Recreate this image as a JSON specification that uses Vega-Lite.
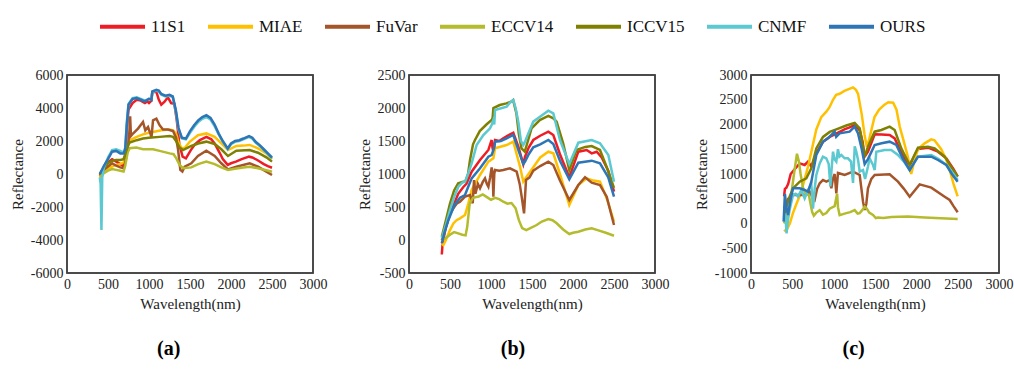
{
  "$schema": "https://vega.github.io/schema/vega-lite/v6.json",
  "background": "white",
  "padding": {"left": 9, "top": 2, "right": 0, "bottom": 0},
  "bounds": "flush",
  "spacing": 96,
  "config": {
    "font": "Liberation Serif",
    "locale": {"number": {"decimal": ".", "thousands": "", "grouping": [3], "currency": ["", ""], "minus": "-"}},
    "view": {"stroke": "#404040", "strokeWidth": 1.5},
    "axis": {
      "grid": false, "ticks": false,
      "labelFont": "Liberation Serif", "labelFontSize": 14, "labelColor": "#222222", "labelPadding": 4,
      "titleFont": "Liberation Serif", "titleFontSize": 15, "titleFontWeight": "normal", "titleColor": "#222222", "titlePadding": 5
    },
    "title": {"orient": "bottom", "frame": "bounds", "anchor": "middle", "fontSize": 20, "font": "Liberation Serif", "fontWeight": "bold", "offset": 28, "color": "#000000"}
  },
  "datasets": {
    "a": [
      {"s":"11S1","x":400,"y":-100},{"s":"11S1","x":450,"y":300},{"s":"11S1","x":500,"y":700},{"s":"11S1","x":550,"y":900},{"s":"11S1","x":600,"y":750},{"s":"11S1","x":650,"y":600},{"s":"11S1","x":690,"y":450},{"s":"11S1","x":710,"y":900},{"s":"11S1","x":730,"y":2800},{"s":"11S1","x":750,"y":3900},{"s":"11S1","x":800,"y":4300},{"s":"11S1","x":850,"y":4500},{"s":"11S1","x":900,"y":4450},{"s":"11S1","x":950,"y":4300},{"s":"11S1","x":980,"y":4400},{"s":"11S1","x":1000,"y":4300},{"s":"11S1","x":1030,"y":4450},{"s":"11S1","x":1040,"y":4950},{"s":"11S1","x":1090,"y":4980},{"s":"11S1","x":1120,"y":4500},{"s":"11S1","x":1150,"y":4200},{"s":"11S1","x":1190,"y":4380},{"s":"11S1","x":1230,"y":4650},{"s":"11S1","x":1270,"y":4300},{"s":"11S1","x":1310,"y":4250},{"s":"11S1","x":1340,"y":3200},{"s":"11S1","x":1370,"y":1800},{"s":"11S1","x":1410,"y":1050},{"s":"11S1","x":1450,"y":950},{"s":"11S1","x":1510,"y":1450},{"s":"11S1","x":1560,"y":1800},{"s":"11S1","x":1620,"y":2050},{"s":"11S1","x":1700,"y":2250},{"s":"11S1","x":1760,"y":2100},{"s":"11S1","x":1800,"y":1850},{"s":"11S1","x":1860,"y":1300},{"s":"11S1","x":1900,"y":900},{"s":"11S1","x":1960,"y":550},{"s":"11S1","x":2000,"y":650},{"s":"11S1","x":2060,"y":750},{"s":"11S1","x":2130,"y":900},{"s":"11S1","x":2220,"y":1050},{"s":"11S1","x":2260,"y":1000},{"s":"11S1","x":2320,"y":850},{"s":"11S1","x":2400,"y":600},{"s":"11S1","x":2450,"y":480},{"s":"11S1","x":2500,"y":380},
      {"s":"MIAE","x":400,"y":-250},{"s":"MIAE","x":450,"y":100},{"s":"MIAE","x":500,"y":350},{"s":"MIAE","x":550,"y":450},{"s":"MIAE","x":600,"y":550},{"s":"MIAE","x":650,"y":600},{"s":"MIAE","x":690,"y":700},{"s":"MIAE","x":710,"y":1100},{"s":"MIAE","x":740,"y":1700},{"s":"MIAE","x":770,"y":2050},{"s":"MIAE","x":850,"y":2250},{"s":"MIAE","x":927,"y":2400},{"s":"MIAE","x":1000,"y":2500},{"s":"MIAE","x":1049,"y":2550},{"s":"MIAE","x":1150,"y":2650},{"s":"MIAE","x":1250,"y":2700},{"s":"MIAE","x":1293,"y":2650},{"s":"MIAE","x":1330,"y":2450},{"s":"MIAE","x":1360,"y":1900},{"s":"MIAE","x":1400,"y":1550},{"s":"MIAE","x":1440,"y":1600},{"s":"MIAE","x":1496,"y":1950},{"s":"MIAE","x":1597,"y":2350},{"s":"MIAE","x":1699,"y":2460},{"s":"MIAE","x":1801,"y":2250},{"s":"MIAE","x":1882,"y":1850},{"s":"MIAE","x":1963,"y":1450},{"s":"MIAE","x":2065,"y":1700},{"s":"MIAE","x":2150,"y":1720},{"s":"MIAE","x":2228,"y":1760},{"s":"MIAE","x":2329,"y":1560},{"s":"MIAE","x":2431,"y":1250},{"s":"MIAE","x":2500,"y":900},
      {"s":"FuVar","x":400,"y":-150},{"s":"FuVar","x":450,"y":250},{"s":"FuVar","x":500,"y":450},{"s":"FuVar","x":550,"y":650},{"s":"FuVar","x":600,"y":500},{"s":"FuVar","x":650,"y":400},{"s":"FuVar","x":690,"y":350},{"s":"FuVar","x":710,"y":700},{"s":"FuVar","x":740,"y":1500},{"s":"FuVar","x":760,"y":2500},{"s":"FuVar","x":770,"y":3500},{"s":"FuVar","x":780,"y":2300},{"s":"FuVar","x":805,"y":2450},{"s":"FuVar","x":866,"y":2750},{"s":"FuVar","x":927,"y":3150},{"s":"FuVar","x":955,"y":2650},{"s":"FuVar","x":988,"y":2850},{"s":"FuVar","x":1020,"y":2400},{"s":"FuVar","x":1030,"y":2200},{"s":"FuVar","x":1049,"y":3250},{"s":"FuVar","x":1090,"y":3350},{"s":"FuVar","x":1130,"y":2950},{"s":"FuVar","x":1171,"y":2700},{"s":"FuVar","x":1230,"y":2700},{"s":"FuVar","x":1293,"y":2600},{"s":"FuVar","x":1330,"y":2200},{"s":"FuVar","x":1354,"y":1500},{"s":"FuVar","x":1382,"y":250},{"s":"FuVar","x":1407,"y":150},{"s":"FuVar","x":1435,"y":450},{"s":"FuVar","x":1516,"y":650},{"s":"FuVar","x":1597,"y":1090},{"s":"FuVar","x":1699,"y":1410},{"s":"FuVar","x":1801,"y":1090},{"s":"FuVar","x":1882,"y":650},{"s":"FuVar","x":1963,"y":280},{"s":"FuVar","x":2065,"y":440},{"s":"FuVar","x":2228,"y":650},{"s":"FuVar","x":2329,"y":440},{"s":"FuVar","x":2431,"y":140},{"s":"FuVar","x":2500,"y":-60},
      {"s":"ECCV14","x":400,"y":-150},{"s":"ECCV14","x":450,"y":50},{"s":"ECCV14","x":500,"y":200},{"s":"ECCV14","x":550,"y":300},{"s":"ECCV14","x":600,"y":250},{"s":"ECCV14","x":650,"y":200},{"s":"ECCV14","x":690,"y":150},{"s":"ECCV14","x":710,"y":500},{"s":"ECCV14","x":740,"y":1300},{"s":"ECCV14","x":764,"y":1560},{"s":"ECCV14","x":846,"y":1600},{"s":"ECCV14","x":927,"y":1500},{"s":"ECCV14","x":1049,"y":1500},{"s":"ECCV14","x":1130,"y":1400},{"s":"ECCV14","x":1252,"y":1250},{"s":"ECCV14","x":1300,"y":1200},{"s":"ECCV14","x":1333,"y":950},{"s":"ECCV14","x":1374,"y":550},{"s":"ECCV14","x":1415,"y":350},{"s":"ECCV14","x":1516,"y":400},{"s":"ECCV14","x":1600,"y":600},{"s":"ECCV14","x":1699,"y":750},{"s":"ECCV14","x":1801,"y":600},{"s":"ECCV14","x":1882,"y":400},{"s":"ECCV14","x":1963,"y":240},{"s":"ECCV14","x":2065,"y":330},{"s":"ECCV14","x":2150,"y":400},{"s":"ECCV14","x":2228,"y":440},{"s":"ECCV14","x":2329,"y":350},{"s":"ECCV14","x":2431,"y":230},{"s":"ECCV14","x":2500,"y":140},
      {"s":"ICCV15","x":400,"y":0},{"s":"ICCV15","x":450,"y":350},{"s":"ICCV15","x":500,"y":650},{"s":"ICCV15","x":550,"y":800},{"s":"ICCV15","x":600,"y":850},{"s":"ICCV15","x":650,"y":850},{"s":"ICCV15","x":690,"y":900},{"s":"ICCV15","x":710,"y":1200},{"s":"ICCV15","x":740,"y":1700},{"s":"ICCV15","x":764,"y":1900},{"s":"ICCV15","x":850,"y":2050},{"s":"ICCV15","x":927,"y":2150},{"s":"ICCV15","x":1000,"y":2200},{"s":"ICCV15","x":1130,"y":2250},{"s":"ICCV15","x":1250,"y":2300},{"s":"ICCV15","x":1293,"y":2250},{"s":"ICCV15","x":1330,"y":2000},{"s":"ICCV15","x":1374,"y":1600},{"s":"ICCV15","x":1415,"y":1450},{"s":"ICCV15","x":1516,"y":1700},{"s":"ICCV15","x":1600,"y":1850},{"s":"ICCV15","x":1699,"y":1960},{"s":"ICCV15","x":1801,"y":1820},{"s":"ICCV15","x":1882,"y":1500},{"s":"ICCV15","x":1963,"y":1090},{"s":"ICCV15","x":2065,"y":1410},{"s":"ICCV15","x":2228,"y":1450},{"s":"ICCV15","x":2329,"y":1290},{"s":"ICCV15","x":2431,"y":1010},{"s":"ICCV15","x":2500,"y":750},
      {"s":"CNMF","x":400,"y":-200},{"s":"CNMF","x":410,"y":-600},{"s":"CNMF","x":420,"y":-3400},{"s":"CNMF","x":430,"y":-200},{"s":"CNMF","x":450,"y":400},{"s":"CNMF","x":500,"y":1000},{"s":"CNMF","x":550,"y":1450},{"s":"CNMF","x":600,"y":1500},{"s":"CNMF","x":650,"y":1400},{"s":"CNMF","x":690,"y":1300},{"s":"CNMF","x":710,"y":1600},{"s":"CNMF","x":730,"y":3200},{"s":"CNMF","x":750,"y":4250},{"s":"CNMF","x":800,"y":4600},{"s":"CNMF","x":850,"y":4650},{"s":"CNMF","x":900,"y":4550},{"s":"CNMF","x":950,"y":4450},{"s":"CNMF","x":1000,"y":4550},{"s":"CNMF","x":1030,"y":4500},{"s":"CNMF","x":1040,"y":4950},{"s":"CNMF","x":1090,"y":5050},{"s":"CNMF","x":1120,"y":5000},{"s":"CNMF","x":1150,"y":4800},{"s":"CNMF","x":1200,"y":4700},{"s":"CNMF","x":1250,"y":4750},{"s":"CNMF","x":1290,"y":4650},{"s":"CNMF","x":1330,"y":3700},{"s":"CNMF","x":1360,"y":2700},{"s":"CNMF","x":1400,"y":2150},{"s":"CNMF","x":1450,"y":2100},{"s":"CNMF","x":1500,"y":2500},{"s":"CNMF","x":1550,"y":2850},{"s":"CNMF","x":1600,"y":3150},{"s":"CNMF","x":1650,"y":3350},{"s":"CNMF","x":1700,"y":3450},{"s":"CNMF","x":1750,"y":3300},{"s":"CNMF","x":1800,"y":2900},{"s":"CNMF","x":1850,"y":2400},{"s":"CNMF","x":1900,"y":1950},{"s":"CNMF","x":1960,"y":1500},{"s":"CNMF","x":2000,"y":1800},{"s":"CNMF","x":2050,"y":1950},{"s":"CNMF","x":2100,"y":2000},{"s":"CNMF","x":2150,"y":2100},{"s":"CNMF","x":2220,"y":2250},{"s":"CNMF","x":2260,"y":2150},{"s":"CNMF","x":2300,"y":1900},{"s":"CNMF","x":2350,"y":1700},{"s":"CNMF","x":2400,"y":1450},{"s":"CNMF","x":2450,"y":1200},{"s":"CNMF","x":2500,"y":950},
      {"s":"OURS","x":400,"y":0},{"s":"OURS","x":450,"y":500},{"s":"OURS","x":500,"y":900},{"s":"OURS","x":550,"y":1350},{"s":"OURS","x":600,"y":1400},{"s":"OURS","x":650,"y":1250},{"s":"OURS","x":690,"y":1250},{"s":"OURS","x":710,"y":1500},{"s":"OURS","x":730,"y":3000},{"s":"OURS","x":750,"y":4200},{"s":"OURS","x":800,"y":4550},{"s":"OURS","x":850,"y":4600},{"s":"OURS","x":900,"y":4500},{"s":"OURS","x":950,"y":4400},{"s":"OURS","x":1000,"y":4550},{"s":"OURS","x":1030,"y":4500},{"s":"OURS","x":1040,"y":5000},{"s":"OURS","x":1090,"y":5100},{"s":"OURS","x":1120,"y":5050},{"s":"OURS","x":1150,"y":4850},{"s":"OURS","x":1200,"y":4750},{"s":"OURS","x":1250,"y":4800},{"s":"OURS","x":1290,"y":4700},{"s":"OURS","x":1330,"y":3800},{"s":"OURS","x":1360,"y":2800},{"s":"OURS","x":1400,"y":2200},{"s":"OURS","x":1450,"y":2150},{"s":"OURS","x":1500,"y":2600},{"s":"OURS","x":1550,"y":2950},{"s":"OURS","x":1600,"y":3250},{"s":"OURS","x":1650,"y":3450},{"s":"OURS","x":1700,"y":3570},{"s":"OURS","x":1750,"y":3400},{"s":"OURS","x":1800,"y":3000},{"s":"OURS","x":1850,"y":2450},{"s":"OURS","x":1900,"y":2000},{"s":"OURS","x":1960,"y":1550},{"s":"OURS","x":2000,"y":1850},{"s":"OURS","x":2050,"y":2000},{"s":"OURS","x":2100,"y":2050},{"s":"OURS","x":2150,"y":2150},{"s":"OURS","x":2220,"y":2300},{"s":"OURS","x":2260,"y":2200},{"s":"OURS","x":2300,"y":1950},{"s":"OURS","x":2350,"y":1750},{"s":"OURS","x":2400,"y":1500},{"s":"OURS","x":2450,"y":1250},{"s":"OURS","x":2500,"y":1000}
    ],
    "b": [
      {"s":"11S1","x":400,"y":-220},{"s":"11S1","x":410,"y":-50},{"s":"11S1","x":450,"y":200},{"s":"11S1","x":500,"y":400},{"s":"11S1","x":550,"y":550},{"s":"11S1","x":600,"y":700},{"s":"11S1","x":660,"y":800},{"s":"11S1","x":700,"y":850},{"s":"11S1","x":764,"y":1035},{"s":"11S1","x":866,"y":1212},{"s":"11S1","x":968,"y":1364},{"s":"11S1","x":990,"y":1450},{"s":"11S1","x":1008,"y":1515},{"s":"11S1","x":1018,"y":1400},{"s":"11S1","x":1029,"y":1338},{"s":"11S1","x":1049,"y":1515},{"s":"11S1","x":1100,"y":1500},{"s":"11S1","x":1150,"y":1540},{"s":"11S1","x":1200,"y":1580},{"s":"11S1","x":1272,"y":1626},{"s":"11S1","x":1333,"y":1414},{"s":"11S1","x":1394,"y":1150},{"s":"11S1","x":1415,"y":1262},{"s":"11S1","x":1460,"y":1400},{"s":"11S1","x":1516,"y":1515},{"s":"11S1","x":1600,"y":1580},{"s":"11S1","x":1699,"y":1641},{"s":"11S1","x":1760,"y":1591},{"s":"11S1","x":1841,"y":1300},{"s":"11S1","x":1955,"y":950},{"s":"11S1","x":2065,"y":1338},{"s":"11S1","x":2167,"y":1364},{"s":"11S1","x":2228,"y":1313},{"s":"11S1","x":2289,"y":1338},{"s":"11S1","x":2350,"y":1250},{"s":"11S1","x":2430,"y":1050},{"s":"11S1","x":2500,"y":732},
      {"s":"MIAE","x":400,"y":-50},{"s":"MIAE","x":419,"y":-76},{"s":"MIAE","x":450,"y":0},{"s":"MIAE","x":500,"y":150},{"s":"MIAE","x":541,"y":252},{"s":"MIAE","x":580,"y":300},{"s":"MIAE","x":622,"y":328},{"s":"MIAE","x":683,"y":379},{"s":"MIAE","x":724,"y":556},{"s":"MIAE","x":764,"y":758},{"s":"MIAE","x":866,"y":985},{"s":"MIAE","x":968,"y":1187},{"s":"MIAE","x":1029,"y":1237},{"s":"MIAE","x":1049,"y":1389},{"s":"MIAE","x":1191,"y":1439},{"s":"MIAE","x":1272,"y":1490},{"s":"MIAE","x":1354,"y":1111},{"s":"MIAE","x":1394,"y":884},{"s":"MIAE","x":1430,"y":950},{"s":"MIAE","x":1516,"y":1101},{"s":"MIAE","x":1600,"y":1250},{"s":"MIAE","x":1699,"y":1338},{"s":"MIAE","x":1760,"y":1313},{"s":"MIAE","x":1841,"y":1000},{"s":"MIAE","x":1955,"y":530},{"s":"MIAE","x":2065,"y":833},{"s":"MIAE","x":2167,"y":934},{"s":"MIAE","x":2250,"y":900},{"s":"MIAE","x":2329,"y":884},{"s":"MIAE","x":2420,"y":600},{"s":"MIAE","x":2500,"y":280},
      {"s":"FuVar","x":400,"y":0},{"s":"FuVar","x":450,"y":200},{"s":"FuVar","x":500,"y":400},{"s":"FuVar","x":541,"y":480},{"s":"FuVar","x":580,"y":550},{"s":"FuVar","x":622,"y":581},{"s":"FuVar","x":683,"y":657},{"s":"FuVar","x":744,"y":682},{"s":"FuVar","x":777,"y":556},{"s":"FuVar","x":793,"y":909},{"s":"FuVar","x":810,"y":700},{"s":"FuVar","x":840,"y":850},{"s":"FuVar","x":866,"y":783},{"s":"FuVar","x":900,"y":880},{"s":"FuVar","x":927,"y":934},{"s":"FuVar","x":950,"y":850},{"s":"FuVar","x":968,"y":808},{"s":"FuVar","x":990,"y":950},{"s":"FuVar","x":1008,"y":1100},{"s":"FuVar","x":1020,"y":1000},{"s":"FuVar","x":1029,"y":657},{"s":"FuVar","x":1040,"y":1000},{"s":"FuVar","x":1049,"y":1060},{"s":"FuVar","x":1100,"y":1050},{"s":"FuVar","x":1150,"y":1060},{"s":"FuVar","x":1232,"y":1086},{"s":"FuVar","x":1313,"y":1035},{"s":"FuVar","x":1350,"y":850},{"s":"FuVar","x":1374,"y":657},{"s":"FuVar","x":1403,"y":404},{"s":"FuVar","x":1427,"y":909},{"s":"FuVar","x":1470,"y":950},{"s":"FuVar","x":1516,"y":1050},{"s":"FuVar","x":1600,"y":1120},{"s":"FuVar","x":1699,"y":1187},{"s":"FuVar","x":1760,"y":1136},{"s":"FuVar","x":1841,"y":900},{"s":"FuVar","x":1955,"y":606},{"s":"FuVar","x":2065,"y":833},{"s":"FuVar","x":2147,"y":950},{"s":"FuVar","x":2228,"y":869},{"s":"FuVar","x":2329,"y":833},{"s":"FuVar","x":2411,"y":656},{"s":"FuVar","x":2500,"y":227},
      {"s":"ECCV14","x":400,"y":0},{"s":"ECCV14","x":450,"y":30},{"s":"ECCV14","x":500,"y":80},{"s":"ECCV14","x":550,"y":120},{"s":"ECCV14","x":600,"y":100},{"s":"ECCV14","x":650,"y":80},{"s":"ECCV14","x":690,"y":70},{"s":"ECCV14","x":710,"y":200},{"s":"ECCV14","x":740,"y":550},{"s":"ECCV14","x":780,"y":640},{"s":"ECCV14","x":850,"y":660},{"s":"ECCV14","x":900,"y":690},{"s":"ECCV14","x":950,"y":650},{"s":"ECCV14","x":1000,"y":610},{"s":"ECCV14","x":1050,"y":640},{"s":"ECCV14","x":1100,"y":620},{"s":"ECCV14","x":1150,"y":580},{"s":"ECCV14","x":1200,"y":550},{"s":"ECCV14","x":1250,"y":560},{"s":"ECCV14","x":1300,"y":480},{"s":"ECCV14","x":1340,"y":300},{"s":"ECCV14","x":1380,"y":180},{"s":"ECCV14","x":1430,"y":150},{"s":"ECCV14","x":1480,"y":180},{"s":"ECCV14","x":1557,"y":227},{"s":"ECCV14","x":1620,"y":280},{"s":"ECCV14","x":1699,"y":318},{"s":"ECCV14","x":1750,"y":300},{"s":"ECCV14","x":1801,"y":253},{"s":"ECCV14","x":1880,"y":160},{"s":"ECCV14","x":1955,"y":91},{"s":"ECCV14","x":2000,"y":110},{"s":"ECCV14","x":2065,"y":126},{"s":"ECCV14","x":2150,"y":160},{"s":"ECCV14","x":2228,"y":177},{"s":"ECCV14","x":2300,"y":150},{"s":"ECCV14","x":2400,"y":110},{"s":"ECCV14","x":2500,"y":65},
      {"s":"ICCV15","x":400,"y":50},{"s":"ICCV15","x":450,"y":300},{"s":"ICCV15","x":500,"y":550},{"s":"ICCV15","x":550,"y":750},{"s":"ICCV15","x":600,"y":860},{"s":"ICCV15","x":650,"y":880},{"s":"ICCV15","x":690,"y":890},{"s":"ICCV15","x":720,"y":1000},{"s":"ICCV15","x":744,"y":1212},{"s":"ICCV15","x":781,"y":1450},{"s":"ICCV15","x":805,"y":1515},{"s":"ICCV15","x":863,"y":1650},{"s":"ICCV15","x":944,"y":1750},{"s":"ICCV15","x":1008,"y":1818},{"s":"ICCV15","x":1020,"y":1850},{"s":"ICCV15","x":1029,"y":2000},{"s":"ICCV15","x":1107,"y":2045},{"s":"ICCV15","x":1188,"y":2070},{"s":"ICCV15","x":1252,"y":2100},{"s":"ICCV15","x":1270,"y":2120},{"s":"ICCV15","x":1310,"y":1919},{"s":"ICCV15","x":1340,"y":1600},{"s":"ICCV15","x":1372,"y":1389},{"s":"ICCV15","x":1412,"y":1338},{"s":"ICCV15","x":1450,"y":1500},{"s":"ICCV15","x":1494,"y":1692},{"s":"ICCV15","x":1516,"y":1717},{"s":"ICCV15","x":1595,"y":1818},{"s":"ICCV15","x":1699,"y":1879},{"s":"ICCV15","x":1760,"y":1843},{"s":"ICCV15","x":1800,"y":1793},{"s":"ICCV15","x":1880,"y":1465},{"s":"ICCV15","x":1955,"y":1060},{"s":"ICCV15","x":2043,"y":1364},{"s":"ICCV15","x":2150,"y":1410},{"s":"ICCV15","x":2228,"y":1424},{"s":"ICCV15","x":2329,"y":1364},{"s":"ICCV15","x":2409,"y":1111},{"s":"ICCV15","x":2500,"y":790},
      {"s":"CNMF","x":400,"y":25},{"s":"CNMF","x":450,"y":230},{"s":"CNMF","x":500,"y":454},{"s":"CNMF","x":550,"y":650},{"s":"CNMF","x":602,"y":808},{"s":"CNMF","x":650,"y":870},{"s":"CNMF","x":683,"y":884},{"s":"CNMF","x":720,"y":1000},{"s":"CNMF","x":764,"y":1161},{"s":"CNMF","x":825,"y":1439},{"s":"CNMF","x":907,"y":1591},{"s":"CNMF","x":988,"y":1692},{"s":"CNMF","x":1010,"y":1750},{"s":"CNMF","x":1029,"y":1818},{"s":"CNMF","x":1040,"y":1750},{"s":"CNMF","x":1049,"y":1970},{"s":"CNMF","x":1191,"y":2020},{"s":"CNMF","x":1230,"y":2080},{"s":"CNMF","x":1272,"y":2121},{"s":"CNMF","x":1300,"y":2000},{"s":"CNMF","x":1333,"y":1793},{"s":"CNMF","x":1365,"y":1500},{"s":"CNMF","x":1394,"y":1439},{"s":"CNMF","x":1415,"y":1490},{"s":"CNMF","x":1450,"y":1600},{"s":"CNMF","x":1516,"y":1793},{"s":"CNMF","x":1597,"y":1869},{"s":"CNMF","x":1699,"y":1960},{"s":"CNMF","x":1760,"y":1919},{"s":"CNMF","x":1841,"y":1515},{"s":"CNMF","x":1955,"y":1151},{"s":"CNMF","x":2065,"y":1475},{"s":"CNMF","x":2228,"y":1515},{"s":"CNMF","x":2329,"y":1465},{"s":"CNMF","x":2431,"y":1288},{"s":"CNMF","x":2500,"y":884},
      {"s":"OURS","x":400,"y":-50},{"s":"OURS","x":430,"y":100},{"s":"OURS","x":480,"y":300},{"s":"OURS","x":550,"y":520},{"s":"OURS","x":622,"y":641},{"s":"OURS","x":683,"y":682},{"s":"OURS","x":720,"y":800},{"s":"OURS","x":764,"y":934},{"s":"OURS","x":866,"y":1086},{"s":"OURS","x":968,"y":1262},{"s":"OURS","x":1008,"y":1288},{"s":"OURS","x":1040,"y":1400},{"s":"OURS","x":1049,"y":1490},{"s":"OURS","x":1120,"y":1500},{"s":"OURS","x":1191,"y":1540},{"s":"OURS","x":1272,"y":1591},{"s":"OURS","x":1333,"y":1364},{"s":"OURS","x":1394,"y":1150},{"s":"OURS","x":1415,"y":1187},{"s":"OURS","x":1460,"y":1300},{"s":"OURS","x":1516,"y":1404},{"s":"OURS","x":1600,"y":1450},{"s":"OURS","x":1699,"y":1515},{"s":"OURS","x":1760,"y":1454},{"s":"OURS","x":1841,"y":1200},{"s":"OURS","x":1955,"y":919},{"s":"OURS","x":2065,"y":1171},{"s":"OURS","x":2228,"y":1202},{"s":"OURS","x":2329,"y":1161},{"s":"OURS","x":2430,"y":950},{"s":"OURS","x":2500,"y":656}
    ],
    "c": [
      {"s":"11S1","x":400,"y":550},{"s":"11S1","x":410,"y":700},{"s":"11S1","x":427,"y":720},{"s":"11S1","x":450,"y":800},{"s":"11S1","x":480,"y":1000},{"s":"11S1","x":525,"y":1090},{"s":"11S1","x":589,"y":1215},{"s":"11S1","x":649,"y":1182},{"s":"11S1","x":689,"y":1249},{"s":"11S1","x":730,"y":1150},{"s":"11S1","x":790,"y":1420},{"s":"11S1","x":871,"y":1650},{"s":"11S1","x":952,"y":1750},{"s":"11S1","x":1012,"y":1800},{"s":"11S1","x":1072,"y":1850},{"s":"11S1","x":1130,"y":1900},{"s":"11S1","x":1193,"y":1940},{"s":"11S1","x":1254,"y":1990},{"s":"11S1","x":1315,"y":1880},{"s":"11S1","x":1350,"y":1650},{"s":"11S1","x":1375,"y":1350},{"s":"11S1","x":1415,"y":1450},{"s":"11S1","x":1496,"y":1801},{"s":"11S1","x":1580,"y":1800},{"s":"11S1","x":1677,"y":1788},{"s":"11S1","x":1738,"y":1720},{"s":"11S1","x":1800,"y":1500},{"s":"11S1","x":1860,"y":1300},{"s":"11S1","x":1919,"y":1168},{"s":"11S1","x":2020,"y":1505},{"s":"11S1","x":2141,"y":1532},{"s":"11S1","x":2262,"y":1451},{"s":"11S1","x":2363,"y":1316},{"s":"11S1","x":2450,"y":1100},{"s":"11S1","x":2500,"y":946},
      {"s":"MIAE","x":400,"y":-160},{"s":"MIAE","x":440,"y":-100},{"s":"MIAE","x":470,"y":0},{"s":"MIAE","x":505,"y":200},{"s":"MIAE","x":550,"y":400},{"s":"MIAE","x":600,"y":600},{"s":"MIAE","x":650,"y":900},{"s":"MIAE","x":690,"y":1150},{"s":"MIAE","x":730,"y":1450},{"s":"MIAE","x":790,"y":1900},{"s":"MIAE","x":850,"y":2150},{"s":"MIAE","x":911,"y":2260},{"s":"MIAE","x":950,"y":2350},{"s":"MIAE","x":992,"y":2500},{"s":"MIAE","x":1030,"y":2600},{"s":"MIAE","x":1072,"y":2620},{"s":"MIAE","x":1130,"y":2680},{"s":"MIAE","x":1190,"y":2720},{"s":"MIAE","x":1234,"y":2750},{"s":"MIAE","x":1270,"y":2700},{"s":"MIAE","x":1295,"y":2620},{"s":"MIAE","x":1340,"y":2200},{"s":"MIAE","x":1373,"y":1800},{"s":"MIAE","x":1400,"y":1550},{"s":"MIAE","x":1430,"y":1700},{"s":"MIAE","x":1494,"y":2150},{"s":"MIAE","x":1550,"y":2300},{"s":"MIAE","x":1615,"y":2400},{"s":"MIAE","x":1660,"y":2450},{"s":"MIAE","x":1720,"y":2440},{"s":"MIAE","x":1760,"y":2300},{"s":"MIAE","x":1800,"y":1950},{"s":"MIAE","x":1850,"y":1650},{"s":"MIAE","x":1897,"y":1350},{"s":"MIAE","x":1938,"y":1000},{"s":"MIAE","x":1990,"y":1350},{"s":"MIAE","x":2019,"y":1500},{"s":"MIAE","x":2100,"y":1620},{"s":"MIAE","x":2180,"y":1700},{"s":"MIAE","x":2220,"y":1680},{"s":"MIAE","x":2301,"y":1500},{"s":"MIAE","x":2360,"y":1300},{"s":"MIAE","x":2402,"y":1087},{"s":"MIAE","x":2450,"y":800},{"s":"MIAE","x":2500,"y":550},
      {"s":"FuVar","x":400,"y":300},{"s":"FuVar","x":450,"y":500},{"s":"FuVar","x":508,"y":580},{"s":"FuVar","x":589,"y":576},{"s":"FuVar","x":669,"y":576},{"s":"FuVar","x":710,"y":643},{"s":"FuVar","x":750,"y":509},{"s":"FuVar","x":770,"y":475},{"s":"FuVar","x":800,"y":700},{"s":"FuVar","x":831,"y":812},{"s":"FuVar","x":871,"y":879},{"s":"FuVar","x":911,"y":845},{"s":"FuVar","x":952,"y":879},{"s":"FuVar","x":972,"y":710},{"s":"FuVar","x":992,"y":912},{"s":"FuVar","x":1012,"y":1000},{"s":"FuVar","x":1032,"y":609},{"s":"FuVar","x":1052,"y":1020},{"s":"FuVar","x":1133,"y":980},{"s":"FuVar","x":1234,"y":1047},{"s":"FuVar","x":1315,"y":980},{"s":"FuVar","x":1355,"y":441},{"s":"FuVar","x":1375,"y":273},{"s":"FuVar","x":1395,"y":400},{"s":"FuVar","x":1415,"y":710},{"s":"FuVar","x":1456,"y":900},{"s":"FuVar","x":1496,"y":980},{"s":"FuVar","x":1677,"y":993},{"s":"FuVar","x":1778,"y":845},{"s":"FuVar","x":1850,"y":700},{"s":"FuVar","x":1919,"y":542},{"s":"FuVar","x":2040,"y":791},{"s":"FuVar","x":2181,"y":724},{"s":"FuVar","x":2343,"y":542},{"s":"FuVar","x":2403,"y":475},{"s":"FuVar","x":2450,"y":350},{"s":"FuVar","x":2500,"y":226},
      {"s":"ECCV14","x":400,"y":0},{"s":"ECCV14","x":448,"y":200},{"s":"ECCV14","x":488,"y":600},{"s":"ECCV14","x":520,"y":1000},{"s":"ECCV14","x":556,"y":1410},{"s":"ECCV14","x":580,"y":1250},{"s":"ECCV14","x":600,"y":1000},{"s":"ECCV14","x":629,"y":720},{"s":"ECCV14","x":660,"y":600},{"s":"ECCV14","x":700,"y":580},{"s":"ECCV14","x":720,"y":400},{"s":"ECCV14","x":740,"y":230},{"s":"ECCV14","x":760,"y":160},{"s":"ECCV14","x":790,"y":220},{"s":"ECCV14","x":831,"y":270},{"s":"ECCV14","x":870,"y":180},{"s":"ECCV14","x":911,"y":210},{"s":"ECCV14","x":952,"y":300},{"s":"ECCV14","x":1012,"y":350},{"s":"ECCV14","x":1032,"y":520},{"s":"ECCV14","x":1042,"y":600},{"s":"ECCV14","x":1052,"y":330},{"s":"ECCV14","x":1072,"y":170},{"s":"ECCV14","x":1153,"y":210},{"s":"ECCV14","x":1200,"y":230},{"s":"ECCV14","x":1254,"y":270},{"s":"ECCV14","x":1290,"y":200},{"s":"ECCV14","x":1315,"y":210},{"s":"ECCV14","x":1340,"y":260},{"s":"ECCV14","x":1375,"y":340},{"s":"ECCV14","x":1400,"y":300},{"s":"ECCV14","x":1430,"y":220},{"s":"ECCV14","x":1476,"y":172},{"s":"ECCV14","x":1510,"y":110},{"s":"ECCV14","x":1536,"y":120},{"s":"ECCV14","x":1600,"y":110},{"s":"ECCV14","x":1700,"y":130},{"s":"ECCV14","x":1899,"y":140},{"s":"ECCV14","x":2100,"y":120},{"s":"ECCV14","x":2300,"y":105},{"s":"ECCV14","x":2500,"y":91},
      {"s":"ICCV15","x":400,"y":100},{"s":"ICCV15","x":430,"y":350},{"s":"ICCV15","x":470,"y":550},{"s":"ICCV15","x":508,"y":710},{"s":"ICCV15","x":589,"y":845},{"s":"ICCV15","x":669,"y":912},{"s":"ICCV15","x":730,"y":1114},{"s":"ICCV15","x":790,"y":1518},{"s":"ICCV15","x":871,"y":1750},{"s":"ICCV15","x":952,"y":1850},{"s":"ICCV15","x":1032,"y":1900},{"s":"ICCV15","x":1153,"y":1980},{"s":"ICCV15","x":1254,"y":2030},{"s":"ICCV15","x":1315,"y":1923},{"s":"ICCV15","x":1350,"y":1600},{"s":"ICCV15","x":1375,"y":1350},{"s":"ICCV15","x":1415,"y":1550},{"s":"ICCV15","x":1496,"y":1855},{"s":"ICCV15","x":1577,"y":1889},{"s":"ICCV15","x":1677,"y":1956},{"s":"ICCV15","x":1738,"y":1889},{"s":"ICCV15","x":1818,"y":1518},{"s":"ICCV15","x":1919,"y":1182},{"s":"ICCV15","x":2020,"y":1532},{"s":"ICCV15","x":2141,"y":1552},{"s":"ICCV15","x":2222,"y":1518},{"s":"ICCV15","x":2343,"y":1350},{"s":"ICCV15","x":2420,"y":1150},{"s":"ICCV15","x":2500,"y":950},
      {"s":"CNMF","x":400,"y":100},{"s":"CNMF","x":415,"y":200},{"s":"CNMF","x":430,"y":-200},{"s":"CNMF","x":450,"y":100},{"s":"CNMF","x":470,"y":300},{"s":"CNMF","x":508,"y":576},{"s":"CNMF","x":540,"y":600},{"s":"CNMF","x":568,"y":542},{"s":"CNMF","x":609,"y":677},{"s":"CNMF","x":649,"y":509},{"s":"CNMF","x":689,"y":677},{"s":"CNMF","x":730,"y":778},{"s":"CNMF","x":750,"y":300},{"s":"CNMF","x":770,"y":700},{"s":"CNMF","x":790,"y":980},{"s":"CNMF","x":831,"y":1215},{"s":"CNMF","x":870,"y":1350},{"s":"CNMF","x":911,"y":1316},{"s":"CNMF","x":940,"y":1200},{"s":"CNMF","x":960,"y":750},{"s":"CNMF","x":975,"y":1100},{"s":"CNMF","x":992,"y":1451},{"s":"CNMF","x":1010,"y":1300},{"s":"CNMF","x":1032,"y":1250},{"s":"CNMF","x":1052,"y":1500},{"s":"CNMF","x":1070,"y":1350},{"s":"CNMF","x":1093,"y":1384},{"s":"CNMF","x":1133,"y":1316},{"s":"CNMF","x":1173,"y":1316},{"s":"CNMF","x":1210,"y":1250},{"s":"CNMF","x":1234,"y":820},{"s":"CNMF","x":1255,"y":1560},{"s":"CNMF","x":1274,"y":1450},{"s":"CNMF","x":1295,"y":1283},{"s":"CNMF","x":1315,"y":1047},{"s":"CNMF","x":1355,"y":1081},{"s":"CNMF","x":1380,"y":900},{"s":"CNMF","x":1415,"y":1150},{"s":"CNMF","x":1435,"y":1316},{"s":"CNMF","x":1476,"y":1182},{"s":"CNMF","x":1496,"y":1081},{"s":"CNMF","x":1516,"y":1451},{"s":"CNMF","x":1617,"y":1485},{"s":"CNMF","x":1697,"y":1485},{"s":"CNMF","x":1778,"y":1384},{"s":"CNMF","x":1850,"y":1250},{"s":"CNMF","x":1919,"y":1081},{"s":"CNMF","x":2020,"y":1350},{"s":"CNMF","x":2181,"y":1384},{"s":"CNMF","x":2270,"y":1300},{"s":"CNMF","x":2363,"y":1182},{"s":"CNMF","x":2450,"y":1000},{"s":"CNMF","x":2500,"y":880},
      {"s":"OURS","x":395,"y":37},{"s":"OURS","x":410,"y":600},{"s":"OURS","x":430,"y":300},{"s":"OURS","x":448,"y":172},{"s":"OURS","x":480,"y":500},{"s":"OURS","x":508,"y":710},{"s":"OURS","x":589,"y":710},{"s":"OURS","x":649,"y":677},{"s":"OURS","x":689,"y":643},{"s":"OURS","x":730,"y":845},{"s":"OURS","x":790,"y":1384},{"s":"OURS","x":871,"y":1653},{"s":"OURS","x":930,"y":1720},{"s":"OURS","x":972,"y":1788},{"s":"OURS","x":1012,"y":1855},{"s":"OURS","x":1030,"y":1750},{"s":"OURS","x":1072,"y":1821},{"s":"OURS","x":1193,"y":1855},{"s":"OURS","x":1254,"y":1956},{"s":"OURS","x":1295,"y":1821},{"s":"OURS","x":1340,"y":1500},{"s":"OURS","x":1375,"y":1200},{"s":"OURS","x":1415,"y":1300},{"s":"OURS","x":1496,"y":1586},{"s":"OURS","x":1580,"y":1620},{"s":"OURS","x":1677,"y":1653},{"s":"OURS","x":1758,"y":1586},{"s":"OURS","x":1840,"y":1300},{"s":"OURS","x":1919,"y":1081},{"s":"OURS","x":2020,"y":1350},{"s":"OURS","x":2181,"y":1350},{"s":"OURS","x":2262,"y":1283},{"s":"OURS","x":2363,"y":1182},{"s":"OURS","x":2430,"y":1000},{"s":"OURS","x":2500,"y":845}
    ]
  },
  "hconcat": [
    {
      "width": 246, "height": 198,
      "title": {"text": "(a)"},
      "resolve": {"axis": {"x": "independent", "y": "independent"}},
      "layer": [
        {
          "data": {"name": "a"},
          "mark": {"type": "line", "strokeWidth": 2.5},
          "encoding": {
            "x": {"field": "x", "type": "quantitative", "scale": {"domain": [0, 3000], "nice": false}, "axis": {"values": [0,500,1000,1500,2000,2500,3000], "format": "d", "title": "Wavelength(nm)", "labelOverlap": false, "labelFlush": false, "domain": false}},
            "y": {"field": "y", "type": "quantitative", "scale": {"domain": [-6000, 6000], "nice": false}, "axis": {"values": [-6000,-4000,-2000,0,2000,4000,6000], "format": "d", "title": "Reflectance", "labelOverlap": false, "labelFlush": false, "domain": false}},
            "color": {"field": "s", "type": "nominal",
              "scale": {"domain": ["11S1","MIAE","FuVar","ECCV14","ICCV15","CNMF","OURS"], "range": ["#ee1c25","#ffc000","#a5552a","#b4bb2c","#7f8000","#5cc8d0","#2e75b6"]},
              "legend": {"title": null, "orient": "none", "legendX": 31, "legendY": -73, "direction": "horizontal", "symbolType": "stroke", "symbolSize": 2025, "symbolStrokeWidth": 4, "labelFont": "Liberation Serif", "labelFontSize": 17, "labelColor": "#111111", "columnPadding": 14, "labelOffset": 4}
            }
          }
        },
        {"data": {"values": [{"k": 1}]}, "mark": {"type": "rect", "fill": null, "fillOpacity": 0, "stroke": "#404040", "strokeWidth": 1.5}, "encoding": {"x": {"datum": 0, "type": "quantitative", "axis": null}, "x2": {"datum": 3000}, "y": {"datum": -6000, "type": "quantitative", "axis": null}, "y2": {"datum": 6000}}}
      ]
    },
    {
      "width": 246, "height": 198,
      "title": {"text": "(b)"},
      "resolve": {"axis": {"x": "independent", "y": "independent"}},
      "layer": [
        {
          "data": {"name": "b"},
          "mark": {"type": "line", "strokeWidth": 2.5},
          "encoding": {
            "x": {"field": "x", "type": "quantitative", "scale": {"domain": [0, 3000], "nice": false}, "axis": {"values": [0,500,1000,1500,2000,2500,3000], "format": "d", "title": "Wavelength(nm)", "labelOverlap": false, "labelFlush": false, "domain": false}},
            "y": {"field": "y", "type": "quantitative", "scale": {"domain": [-500, 2500], "nice": false}, "axis": {"values": [-500,0,500,1000,1500,2000,2500], "format": "d", "title": "Reflectance", "labelOverlap": false, "labelFlush": false, "domain": false}},
            "color": {"field": "s", "type": "nominal"}
          }
        },
        {"data": {"values": [{"k": 1}]}, "mark": {"type": "rect", "fill": null, "fillOpacity": 0, "stroke": "#404040", "strokeWidth": 1.5}, "encoding": {"x": {"datum": 0, "type": "quantitative", "axis": null}, "x2": {"datum": 3000}, "y": {"datum": -500, "type": "quantitative", "axis": null}, "y2": {"datum": 2500}}}
      ]
    },
    {
      "width": 248, "height": 198,
      "title": {"text": "(c)"},
      "resolve": {"axis": {"x": "independent", "y": "independent"}},
      "layer": [
        {
          "data": {"name": "c"},
          "mark": {"type": "line", "strokeWidth": 2.5},
          "encoding": {
            "x": {"field": "x", "type": "quantitative", "scale": {"domain": [0, 3000], "nice": false}, "axis": {"values": [0,500,1000,1500,2000,2500,3000], "format": "d", "title": "Wavelength(nm)", "labelOverlap": false, "labelFlush": false, "domain": false}},
            "y": {"field": "y", "type": "quantitative", "scale": {"domain": [-1000, 3000], "nice": false}, "axis": {"values": [-1000,-500,0,500,1000,1500,2000,2500,3000], "format": "d", "title": "Reflectance", "labelOverlap": false, "labelFlush": false, "domain": false}},
            "color": {"field": "s", "type": "nominal"}
          }
        },
        {"data": {"values": [{"k": 1}]}, "mark": {"type": "rect", "fill": null, "fillOpacity": 0, "stroke": "#404040", "strokeWidth": 1.5}, "encoding": {"x": {"datum": 0, "type": "quantitative", "axis": null}, "x2": {"datum": 3000}, "y": {"datum": -1000, "type": "quantitative", "axis": null}, "y2": {"datum": 3000}}}
      ]
    }
  ]
}
